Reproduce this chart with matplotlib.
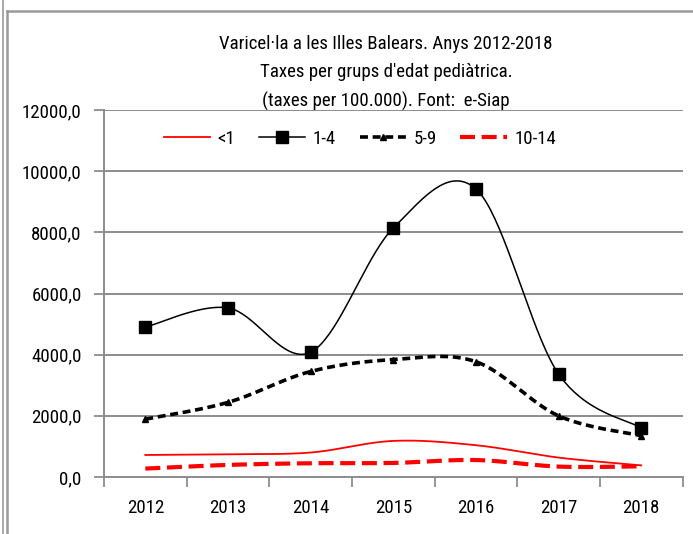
import numpy as np
import matplotlib
matplotlib.use("Agg")
import matplotlib.pyplot as plt
from matplotlib.lines import Line2D

years = ["2012", "2013", "2014", "2015", "2016", "2017", "2018"]
lt1 = [720, 745, 800, 1180, 1040, 635, 380]
g1_4 = [4900, 5530, 4080, 8140, 9420, 3370, 1600]
g5_9 = [1890, 2440, 3450, 3840, 3770, 2000, 1350]
g10_14 = [275, 395, 450, 460, 555, 340, 350]
series_names = ["<1", "1-4", "5-9", "10-14"]
title_lines = ["Varicel·la a les Illes Balears. Anys 2012-2018",
               "Taxes per grups d'edat pediàtrica.",
               "(taxes per 100.000). Font:  e-Siap"]
yticks = [0, 2000, 4000, 6000, 8000, 10000, 12000]

FONT = ["Roboto Condensed", "DejaVu Sans"]
plt.rcParams["font.family"] = FONT
FS = 13.6


def smooth(xs, ys, n=40):
    xs = np.asarray(xs, float)
    ys = np.asarray(ys, float)
    P = np.column_stack([xs, ys])
    out = [P[0]]
    m = len(P)
    for i in range(m - 1):
        p0 = P[i - 1] if i > 0 else P[i]
        p1 = P[i]
        p2 = P[i + 1]
        p3 = P[i + 2] if i + 2 < m else P[i + 1]
        c1 = p1 + (p2 - p0) / 6.0
        c2 = p2 - (p3 - p1) / 6.0
        t = np.linspace(0, 1, n)[1:, None]
        b = ((1 - t) ** 3) * p1 + 3 * ((1 - t) ** 2) * t * c1 + 3 * (1 - t) * t ** 2 * c2 + t ** 3 * p2
        out.extend(b)
    out = np.array(out)
    return out[:, 0], out[:, 1]


fig = plt.figure(figsize=(6.93, 5.34), dpi=100)
ax = fig.add_axes([104 / 693, 1 - 477 / 534, (682.5 - 104) / 693, (477 - 110) / 534])

x = np.arange(len(years))
grid_c = "#8c8c8c"
for yv in yticks[1:]:
    ax.axhline(yv, color=grid_c, lw=1.4, zorder=1)

DASH_5_9 = (0, (2.2, 1.3))
DASH_10_14 = (0, (3.6, 1.6))

# <1
sx, sy = smooth(x, lt1)
ax.plot(sx, sy, color="#ff0000", lw=1.3, zorder=3)
# 1-4
sx, sy = smooth(x, g1_4)
ax.plot(sx, sy, color="black", lw=1.1, zorder=4)
ax.plot(x, g1_4, ls="none", marker="s", ms=8.5, color="black", zorder=5)
# 5-9
sx, sy = smooth(x, g5_9)
ax.plot(sx, sy, color="black", lw=2.6, ls=DASH_5_9, zorder=3)
ax.plot(x, g5_9, ls="none", marker="^", ms=5, color="black", zorder=5)
# 10-14
sx, sy = smooth(x, g10_14)
ax.plot(sx, sy, color="#ff0000", lw=3.0, ls=DASH_10_14, zorder=3)

ax.set_xlim(-0.5, len(years) - 0.5)
ax.set_ylim(0, 12000)
ax.set_yticks(yticks)
ax.set_yticklabels([f"{v:.1f}".replace(".", ",") for v in yticks], fontsize=FS)
ax.set_xticks(x)
ax.set_xticklabels(years, fontsize=FS)
ax.set_xticks(np.arange(-0.5, len(years)), minor=True)
ax.tick_params(axis="x", which="major", length=0, pad=16)
ax.tick_params(axis="x", which="minor", length=7, color=grid_c, width=1.3, direction="out")
ax.tick_params(axis="y", length=7, color=grid_c, width=1.3, pad=9)
for s in ["top", "right"]:
    ax.spines[s].set_visible(False)
for s in ["left", "bottom"]:
    ax.spines[s].set_color(grid_c)
    ax.spines[s].set_linewidth(1.4)

handles = [
    Line2D([], [], color="#ff0000", lw=1.3),
    Line2D([], [], color="black", lw=1.1, marker="s", ms=8.5),
    Line2D([], [], color="black", lw=2.6, ls=DASH_5_9, marker="^", ms=5),
    Line2D([], [], color="#ff0000", lw=3.0, ls=DASH_10_14),
]
fig.legend(handles, series_names, loc="center", bbox_to_anchor=(360 / 693, 1 - 139 / 534),
           ncol=4, frameon=False, fontsize=FS, handlelength=2.45, handletextpad=0.4,
           columnspacing=1.25)

for i, (t, yp) in enumerate(zip(title_lines, [44, 72, 101])):
    fig.text(386 / 693, 1 - yp / 534, t, ha="center", va="center", fontsize=FS)

# chart frame
fig.add_artist(Line2D([7 / 693, 7 / 693], [0, 1 - 11 / 534], color="#9a9a9a", lw=1.8, transform=fig.transFigure))
fig.add_artist(Line2D([7 / 693, 1], [1 - 11 / 534, 1 - 11 / 534], color="#9a9a9a", lw=1.8, transform=fig.transFigure))
fig.add_artist(Line2D([2.5 / 693, 2.5 / 693], [0, 1], color="#9a9a9a", lw=1.2, transform=fig.transFigure))

fig.savefig("out.png", dpi=100)
